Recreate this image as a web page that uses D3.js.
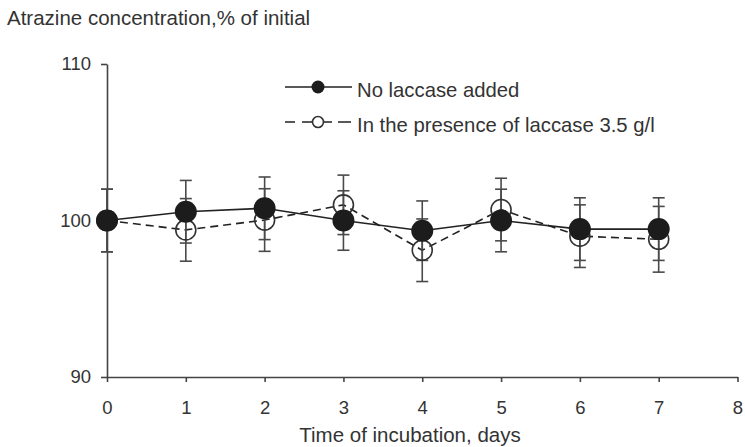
<!DOCTYPE html>
<html>
<head>
<meta charset="utf-8">
<script src="https://cdn.jsdelivr.net/npm/d3@7"></script>
<style>
  body { margin: 0; background: #fff; }
  text { font-family: 'Liberation Sans', Arial, sans-serif; fill: #333; }
</style>
</head>
<body>
<main></main>
<script>
// data
var days = [0, 1, 2, 3, 4, 5, 6, 7]
var noLaccase = [100, 100.56, 100.78, 100.0, 99.35, 100.0, 99.45, 99.45]
var noLaccaseErr = [2.0, 2.0, 2.0, 1.9, 1.9, 2.0, 2.0, 2.0]
var withLaccase = [100, 99.4, 100.03, 101.0, 98.1, 100.7, 99.0, 98.8]
var withLaccaseErr = [2.0, 2.0, 2.0, 1.9, 2.0, 2.0, 2.0, 2.1]
var xTicks = [0, 1, 2, 3, 4, 5, 6, 7, 8]
var yTicks = [90, 100, 110]
var legendLabels = ['No laccase added', 'In the presence of laccase 3.5 g/l']

var width = 745,
    height = 447

var svg = d3.select('main').append('svg')
    .attr('width', width)
    .attr('height', height)

var x = d3.scaleLinear().domain([0, 8]).range([107, 737.5])
var y = d3.scaleLinear().domain([90, 110]).range([377, 64])

var series = [
    { values: noLaccase, err: noLaccaseErr, dash: null, filled: true },
    { values: withLaccase, err: withLaccaseErr, dash: '8,5', filled: false }
]
series.forEach(s => {
    s.points = days.map((d, i) => ({ day: d, v: s.values[i], e: s.err[i] }))
})

// axes
var xAxis = svg.append('g')
    .attr('transform', `translate(0, ${y(90)})`)
    .call(d3.axisBottom(x).tickValues(xTicks).tickSize(5).tickSizeOuter(0).tickPadding(19))
var yAxis = svg.append('g')
    .attr('transform', `translate(${x(0)}, 0)`)
    .call(d3.axisLeft(y).tickValues(yTicks).tickSize(6).tickSizeOuter(0).tickPadding(10))

;[xAxis, yAxis].forEach(a => {
    a.selectAll('path, line').attr('stroke', '#444').attr('stroke-width', 1.6)
    a.selectAll('text').attr('font-size', '18.5px').attr('fill', '#333')
        .attr('font-family', "'Liberation Sans', Arial, sans-serif")
})

// lines
var line = d3.line().x(d => x(d.day)).y(d => y(d.v))
series.slice().reverse().forEach(s => {
    svg.append('path')
        .datum(s.points)
        .attr('fill', 'none')
        .attr('stroke', '#222')
        .attr('stroke-width', 1.6)
        .attr('stroke-dasharray', s.dash)
        .attr('d', line)
})

// error bars
series.forEach(s => {
    var g = svg.append('g').attr('stroke', '#4a4a4a').attr('stroke-width', 1.6)
    g.selectAll('.bar').data(s.points).enter().append('line')
        .attr('x1', d => x(d.day)).attr('x2', d => x(d.day))
        .attr('y1', d => y(d.v - d.e)).attr('y2', d => y(d.v + d.e))
    g.selectAll('.cap-top').data(s.points).enter().append('line')
        .attr('x1', d => x(d.day) - 6).attr('x2', d => x(d.day) + 6)
        .attr('y1', d => y(d.v + d.e)).attr('y2', d => y(d.v + d.e))
    g.selectAll('.cap-bottom').data(s.points).enter().append('line')
        .attr('x1', d => x(d.day) - 6).attr('x2', d => x(d.day) + 6)
        .attr('y1', d => y(d.v - d.e)).attr('y2', d => y(d.v - d.e))
})

// markers: open circles first, filled on top
svg.append('g').selectAll('circle')
    .data(series[1].points).enter().append('circle')
    .attr('cx', d => x(d.day)).attr('cy', d => y(d.v))
    .attr('r', 10)
    .attr('fill', 'none')
    .attr('stroke', '#333')
    .attr('stroke-width', 1.6)
svg.append('g').selectAll('circle')
    .data(series[0].points).enter().append('circle')
    .attr('cx', d => x(d.day)).attr('cy', d => y(d.v))
    .attr('r', 11)
    .attr('fill', '#1c1c1c')

// legend
var legend = svg.append('g')
legend.append('line')
    .attr('x1', 285).attr('x2', 352).attr('y1', 87).attr('y2', 87)
    .attr('stroke', '#222').attr('stroke-width', 1.6)
legend.append('circle')
    .attr('cx', 318).attr('cy', 87).attr('r', 6.5).attr('fill', '#1c1c1c')
legend.append('text')
    .attr('x', 357).attr('y', 96.5)
    .attr('font-size', '20.3px')
    .text(legendLabels[0])

legend.append('line')
    .attr('x1', 285).attr('x2', 312).attr('y1', 122).attr('y2', 122)
    .attr('stroke', '#222').attr('stroke-width', 1.6)
    .attr('stroke-dasharray', '10,7')
legend.append('line')
    .attr('x1', 323).attr('x2', 351).attr('y1', 122).attr('y2', 122)
    .attr('stroke', '#222').attr('stroke-width', 1.6)
    .attr('stroke-dasharray', '9,6,13')
legend.append('circle')
    .attr('cx', 318).attr('cy', 122).attr('r', 5.5)
    .attr('fill', '#fff').attr('stroke', '#333').attr('stroke-width', 1.6)
legend.append('text')
    .attr('x', 357).attr('y', 131.5)
    .attr('font-size', '20.3px')
    .text(legendLabels[1])

// titles
svg.append('text')
    .attr('x', 7).attr('y', 25)
    .attr('font-size', '20.5px')
    .text('Atrazine concentration,% of initial')

svg.append('text')
    .attr('x', 410).attr('y', 442)
    .attr('font-size', '20.5px')
    .style('text-anchor', 'middle')
    .text('Time of incubation, days')
</script>
</body>
</html>
